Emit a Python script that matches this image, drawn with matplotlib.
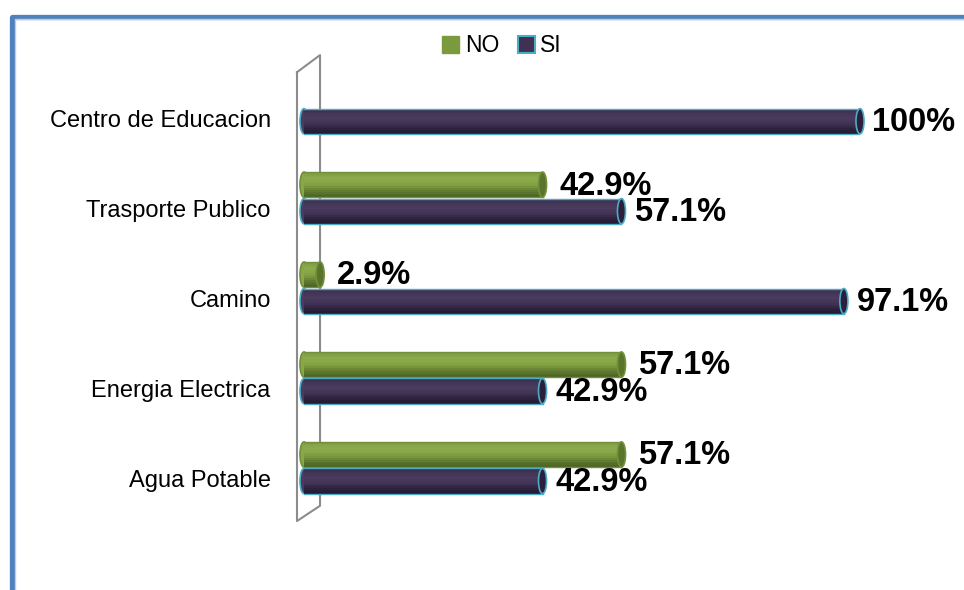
"""Servicios basicos: SI / NO por servicio (barras tipo cilindro)."""

import numpy as np
import matplotlib
matplotlib.use("Agg")
from matplotlib import pyplot as plt
from matplotlib.colors import LinearSegmentedColormap
from matplotlib.patches import Ellipse, Patch
from matplotlib.lines import Line2D

# data, top to bottom
categories = ["Centro de Educacion", "Trasporte Publico", "Camino", "Energia Electrica", "Agua Potable"]
no_values = [0.0, 42.9, 2.9, 57.1, 57.1]
si_values = [100.0, 57.1, 97.1, 42.9, 42.9]
series_names = ["NO", "SI"]

# styles (shades from top to bottom of the cylinder)
GREEN = dict(shades=["#7f9c40", "#8cab4d", "#88a748", "#7a983c", "#5c772e", "#4d6526"],
             base="#7b9a3e", cap="#5a742c", edge="#70903a")
PURPLE = dict(shades=["#3a2d4c", "#463859", "#4a3b5f", "#403252", "#2f2440", "#251b32"],
              base="#403152", cap="#2b1f3b", edge="#4bacc6")
BAR_H = 0.28
CAP_W = 1.45
SI_SHIFT = 0.025
NO_SHIFT = -0.27
N_STRIPS = 14

plt.rcParams["font.family"] = ["Liberation Sans", "DejaVu Sans"]

fig = plt.figure(figsize=(9.64, 5.90), dpi=100)
ax = fig.add_axes([304 / 964, 1 - 523.75 / 590, 556 / 964, 449.75 / 590])
ax.set_xlim(0, 100)
ax.set_ylim(4.5, -0.5)


def cylinder(y, value, st):
    """Draw one horizontal cylinder-like bar."""
    if value <= 0:
        return
    cmap = LinearSegmentedColormap.from_list("c", st["shades"])
    # left rounded end
    ax.add_patch(Ellipse((0, y), CAP_W, BAR_H, facecolor=st["shades"][2], edgecolor=st["edge"],
                         lw=1.2, zorder=2.9, clip_on=False))
    # body with vertical gradient
    edges = np.linspace(y - BAR_H / 2, y + BAR_H / 2, N_STRIPS + 1)
    for k in range(N_STRIPS):
        ax.barh((edges[k] + edges[k + 1]) / 2, value, height=edges[k + 1] - edges[k],
                color=cmap(k / (N_STRIPS - 1)), lw=0, zorder=3)
    ax.plot([0, value], [y - BAR_H / 2, y - BAR_H / 2], color=st["edge"], lw=1.0, zorder=3.2)
    ax.plot([0, value], [y + BAR_H / 2, y + BAR_H / 2], color=st["edge"], lw=1.0, zorder=3.2)
    # right end cap
    ax.add_patch(Ellipse((value, y), CAP_W, BAR_H, facecolor=st["cap"], edgecolor=st["edge"],
                         lw=1.2, zorder=3.3, clip_on=False))


for i, (no, si) in enumerate(zip(no_values, si_values)):
    cylinder(i + NO_SHIFT, no, GREEN)
    cylinder(i + SI_SHIFT, si, PURPLE)
    for y, v, dx in ((i + NO_SHIFT, no, 12), (i + SI_SHIFT, si, 9)):
        if v > 0:
            ax.annotate(f"{v:g}%", (v, y), xytext=(dx, -1), textcoords="offset points",
                        ha="left", va="center", fontsize=23.5, fontweight="bold",
                        color="black", annotation_clip=False, zorder=5)

# 3D side wall outline
wall_x = [-1.26, -1.26, 2.88, 2.88, -1.26]
wall_y = [-0.52, 4.47, 4.30, -0.71, -0.52]
ax.plot(wall_x, wall_y, color="#8c8c8c", lw=1.5, clip_on=False, zorder=1)

ax.set_yticks(range(len(categories)))
ax.set_yticklabels(categories, fontsize=17)
ax.tick_params(axis="y", length=0, pad=24)
ax.set_xticks([])
for s in ax.spines.values():
    s.set_visible(False)
ax.patch.set_alpha(0)

# legend
handles = [Patch(facecolor=GREEN["base"], edgecolor=GREEN["base"]),
           Patch(facecolor=PURPLE["base"], edgecolor=PURPLE["edge"], lw=1.5)]
fig.legend(handles, series_names, loc="center", bbox_to_anchor=(502 / 964, 1 - 46 / 590),
           ncol=2, frameon=False, fontsize=16.5, handlelength=0.75, handleheight=0.75,
           handletextpad=0.25, columnspacing=0.8)

# chart area border (left + top visible)
fig.add_artist(Line2D([11.5 / 964, 11.5 / 964, 1], [0, 1 - 16.5 / 590, 1 - 16.5 / 590],
                      transform=fig.transFigure, color="#4f81bd", lw=3.8))
fig.add_artist(Line2D([14.5 / 964, 14.5 / 964, 1], [0, 1 - 19 / 590, 1 - 19 / 590],
                      transform=fig.transFigure, color="#b9cde5", lw=1))

fig.savefig("out.png", dpi=100)
